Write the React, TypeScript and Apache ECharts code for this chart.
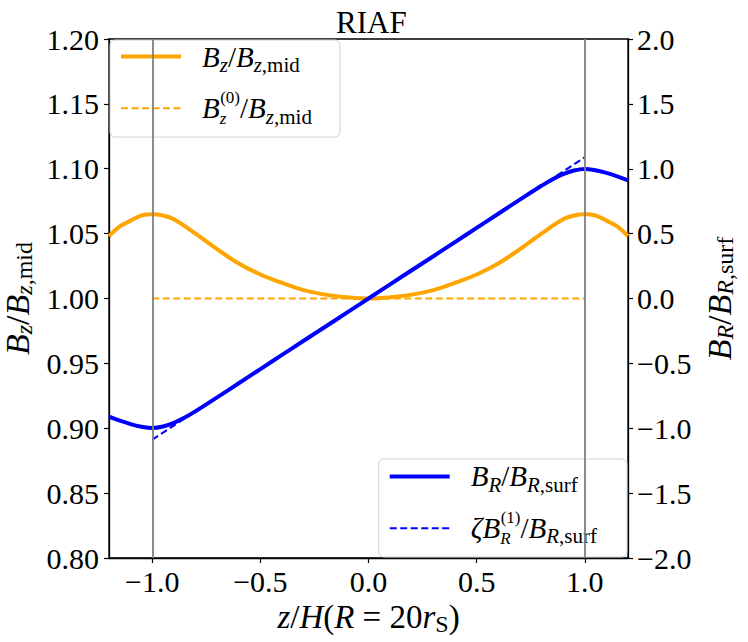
import React, { useEffect, useRef } from "react";
import * as echarts from "echarts";

// ---- data ----
const zOrange = [-1.2, -1.15, -1.1, -1.05, -1.0, -0.95, -0.9, -0.8, -0.7, -0.6, -0.5, -0.4, -0.3, -0.2, -0.1, 0, 0.1, 0.2, 0.3, 0.4, 0.5, 0.6, 0.7, 0.8, 0.9, 0.95, 1.0, 1.05, 1.1, 1.15, 1.2];
const bzOrange = [1.048, 1.0555, 1.06, 1.064, 1.065, 1.064, 1.061, 1.05, 1.038, 1.027, 1.0185, 1.012, 1.0065, 1.003, 1.001, 1.0, 1.001, 1.003, 1.0065, 1.012, 1.0185, 1.027, 1.038, 1.05, 1.061, 1.064, 1.065, 1.064, 1.06, 1.0555, 1.048];
const zOrangeDash = [-1.0, 1.0];
const bzOrangeDash = [1.0, 1.0];
const zBlue = [-1.2, -1.15, -1.1, -1.05, -1.0, -0.95, -0.9, -0.85, -0.8, -0.7, -0.6, -0.5, -0.4, -0.3, -0.2, -0.1, 0, 0.1, 0.2, 0.3, 0.4, 0.5, 0.6, 0.7, 0.8, 0.85, 0.9, 0.95, 1.0, 1.05, 1.1, 1.15, 1.2];
const brBlue = [-0.911, -0.942, -0.968, -0.988, -0.998, -0.986, -0.958, -0.918, -0.869, -0.762, -0.653, -0.544, -0.435, -0.326, -0.218, -0.109, 0, 0.109, 0.218, 0.326, 0.435, 0.544, 0.653, 0.762, 0.869, 0.918, 0.958, 0.986, 0.998, 0.988, 0.968, 0.942, 0.911];
const zBlueDash = [-1.0, 1.0];
const brBlueDash = [-1.088, 1.088];
const verticalMarks = [-1.0, 1.0];
const xTicks = [-1.0, -0.5, 0.0, 0.5, 1.0];
const leftTicks = [0.8, 0.85, 0.9, 0.95, 1.0, 1.05, 1.1, 1.15, 1.2];
const rightTicks = [-2.0, -1.5, -1.0, -0.5, 0.0, 0.5, 1.0, 1.5, 2.0];

const seriesNames = ["Bz/Bz,mid", "Bz(0)/Bz,mid", "BR/BR,surf", "ζBR(1)/BR,surf"];
const legendLabels: Record<string, string> = {
  "Bz/Bz,mid": "{sp| }{i|B}{si|z}{n|/}{i|B}{si|z}{sn|,mid}",
  "Bz(0)/Bz,mid": "{sp| }{i|B}{siz|z}{sup|(0)}{n|/}{i|B}{si|z}{sn|,mid}",
  "BR/BR,surf": "{sp| }{i|B}{si|R}{n|/}{i|B}{si|R}{sn|,surf}",
  "ζBR(1)/BR,surf": "{sp| }{i|ζB}{siz|R}{sup|(1)}{n|/}{i|B}{si|R}{sn|,surf}",
};
const xName = "{i|z}{n|/}{i|H}{n|(}{i|R}{n| = 20}{i|r}{sn|S}{n|)}";
const leftName = "{i|B}{si|z}{n|/}{i|B}{si|z}{sn|,mid}";
const rightName = "{i|B}{si|R}{n|/}{i|B}{si|R}{sn|,surf}";

const FONT = "'Liberation Serif', 'DejaVu Serif', serif";

function richStyles(S: number, lh = 1.3) {
  const s = Math.round(S * 0.72);
  const ss = Math.round(S * 0.6);
  const L = S * lh;
  const base = { fontFamily: FONT, color: "#000", align: "left" as const };
  return {
    sp: { ...base, fontSize: S, lineHeight: L, width: 16 },
    i: { ...base, fontStyle: "italic", fontSize: S, lineHeight: L },
    n: { ...base, fontSize: S, lineHeight: L },
    si: { ...base, fontStyle: "italic", fontSize: s, lineHeight: L - 0.6 * S, verticalAlign: "bottom" },
    sn: { ...base, fontSize: s, lineHeight: L - 0.6 * S, verticalAlign: "bottom" },
    siz: { ...base, fontStyle: "italic", fontSize: ss, lineHeight: L - 0.74 * S, verticalAlign: "bottom", width: 0.5 },
    sup: { ...base, fontSize: ss, lineHeight: Math.max(2, L - 0.92 * S), verticalAlign: "top" },
  };
}

const minus = (v: number, d: number) => (v < 0 ? "\u2212" : "") + Math.abs(v).toFixed(d);

export default function App() {
  const ref = useRef<HTMLDivElement>(null);
  useEffect(() => {
    if (!ref.current) return;
    const chart = echarts.init(ref.current, null, { renderer: "svg" });
    const orangeData = zOrange.map((z, k) => [z, bzOrange[k]]);
    const orangeDash = zOrangeDash.map((z, k) => [z, bzOrangeDash[k]]);
    const blueData = zBlue.map((z, k) => [z, brBlue[k]]);
    const blueDash = zBlueDash.map((z, k) => [z, brBlueDash[k]]);
    const tickLabel = { fontFamily: FONT, fontSize: 30, color: "#000" };
    const legendCommon = {
      orient: "vertical" as const,
      itemWidth: 60,
      itemHeight: 20,
      itemGap: 14,
      backgroundColor: "rgba(255,255,255,0.8)",
      borderColor: "#d0d0d0",
      borderWidth: 1,
      borderRadius: 5,
      selectedMode: false,
      itemStyle: { color: "rgba(0,0,0,0)", borderWidth: 0, opacity: 0 },
      lineStyle: { width: "inherit" },
      formatter: (name: string) => legendLabels[name],
      textStyle: { fontFamily: FONT, fontSize: 29, rich: richStyles(29) },
    };
    const axisLine = { show: true, onZero: false, lineStyle: { color: "#000", width: 1.3 } };
    chart.setOption({
      animation: false,
      title: {
        text: "RIAF",
        left: 331,
        top: 2,
        textStyle: { fontFamily: FONT, fontSize: 31, fontWeight: "normal", color: "#000" },
      },
      grid: {
        left: 109,
        right: 120,
        top: 39,
        bottom: 84,
        show: true,
        borderColor: "#000",
        borderWidth: 1.3,
        containLabel: false,
        outerBoundsMode: "none",
      },
      legend: [
        { ...legendCommon, data: [seriesNames[0], seriesNames[1]], left: 110, top: 40, padding: [2, 28, 10, 9] },
        { ...legendCommon, data: [seriesNames[2], seriesNames[3]], right: 121, bottom: 85, padding: [3, 30, 10, 9] },
      ],
      xAxis: {
        type: "value",
        min: -1.2,
        max: 1.2,
        name: xName,
        nameLocation: "middle",
        nameGap: 36,
        nameTextStyle: { fontFamily: FONT, fontSize: 33, rich: richStyles(33, 1.1) },
        axisLine,
        axisTick: { show: true, length: 5, lineStyle: { color: "#000", width: 1.2 }, customValues: xTicks },
        axisLabel: { ...tickLabel, margin: 8, customValues: xTicks, formatter: (v: number) => minus(v, 1) },
        splitLine: { show: false },
      },
      yAxis: [
        {
          type: "value",
          min: 0.8,
          max: 1.2,
          position: "left",
          name: leftName,
          nameLocation: "middle",
          nameRotate: 90,
          nameGap: 64,
          nameTextStyle: { fontFamily: FONT, fontSize: 34, rich: richStyles(34, 1.05) },
          axisLine,
          axisTick: { show: true, length: 5, lineStyle: { color: "#000", width: 1.2 }, customValues: leftTicks },
          axisLabel: { ...tickLabel, margin: 10, customValues: leftTicks, formatter: (v: number) => v.toFixed(2) },
          splitLine: { show: false },
        },
        {
          type: "value",
          min: -2,
          max: 2,
          position: "right",
          name: rightName,
          nameLocation: "middle",
          nameRotate: 90,
          nameGap: 72,
          nameTextStyle: { fontFamily: FONT, fontSize: 34, rich: richStyles(34, 1.05) },
          axisLine,
          axisTick: { show: true, length: 5, lineStyle: { color: "#000", width: 1.2 }, customValues: rightTicks },
          axisLabel: { ...tickLabel, margin: 9, customValues: rightTicks, formatter: (v: number) => minus(v, 1) },
          splitLine: { show: false },
        },
      ],
      series: [
        {
          name: seriesNames[0],
          type: "line",
          yAxisIndex: 0,
          data: orangeData,
          symbol: "none",
          smooth: 0.4,
          color: "#FFA500",
          lineStyle: { color: "#FFA500", width: 4 },
        },
        {
          name: seriesNames[1],
          type: "line",
          yAxisIndex: 0,
          data: orangeDash,
          symbol: "none",
          color: "#FFA500",
          lineStyle: { color: "#FFA500", width: 2, type: [7, 3.5] },
        },
        {
          name: seriesNames[2],
          type: "line",
          yAxisIndex: 1,
          data: blueData,
          symbol: "none",
          smooth: 0.4,
          color: "#0000FF",
          lineStyle: { color: "#0000FF", width: 4 },
        },
        {
          name: seriesNames[3],
          type: "line",
          yAxisIndex: 1,
          data: blueDash,
          symbol: "none",
          color: "#0000FF",
          lineStyle: { color: "#0000FF", width: 2, type: [7, 3.5] },
          markLine: {
            silent: true,
            symbol: "none",
            label: { show: false },
            lineStyle: { color: "#808080", width: 2, type: "solid", opacity: 0.9 },
            data: verticalMarks.map((v) => ({ xAxis: v })),
          },
        },
      ],
    });
    return () => chart.dispose();
  }, []);
  return <div ref={ref} style={{ position: "absolute", left: 0, top: 0, width: 748, height: 642 }} />;
}
